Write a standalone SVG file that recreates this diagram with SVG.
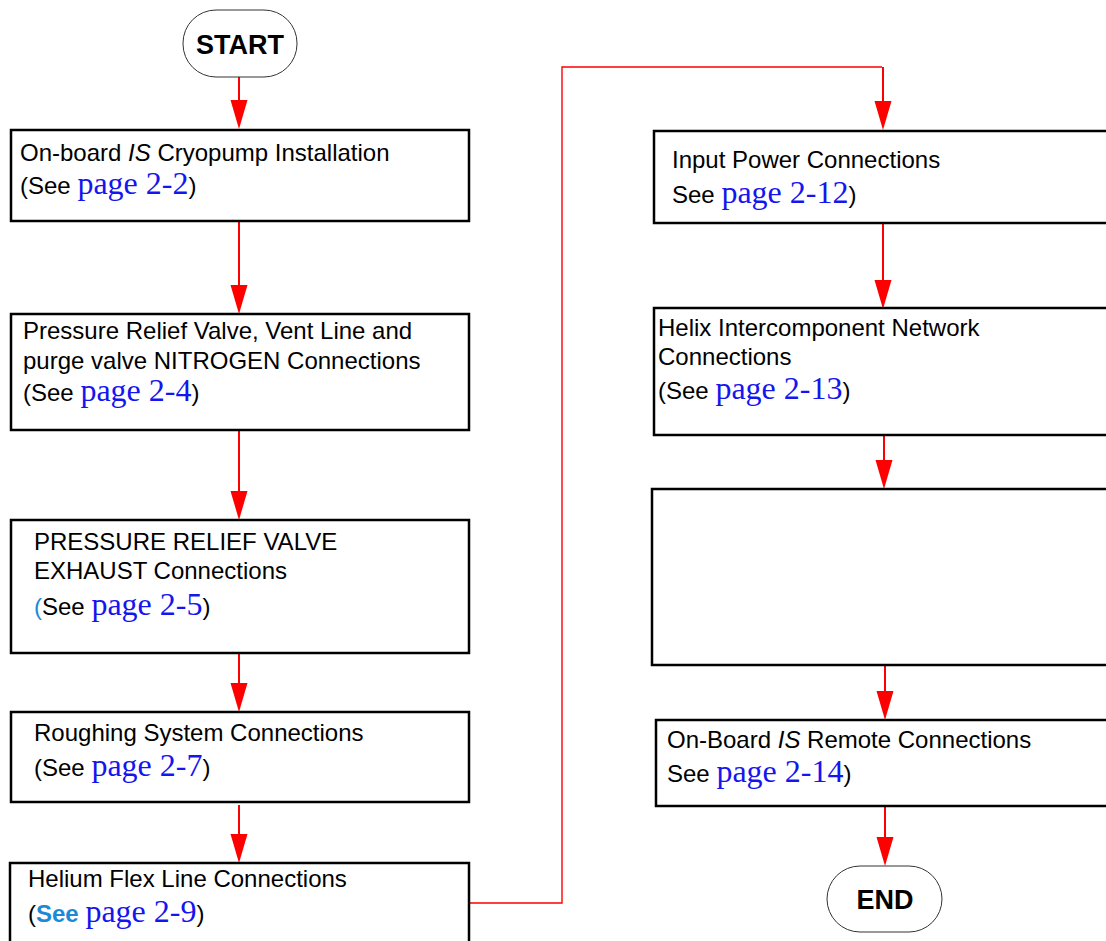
<svg xmlns="http://www.w3.org/2000/svg" width="1106" height="941" viewBox="0 0 1106 941">
<style>
.box{fill:#fff;stroke:#000;stroke-width:2.5}
.pill{fill:#fff;stroke:#333;stroke-width:1}
.t{font-family:"Liberation Sans",Arial,sans-serif;font-size:24px;fill:#000}
.tb{font-family:"Liberation Sans",Arial,sans-serif;font-size:27px;font-weight:bold;fill:#000}
.pg{font-family:"Liberation Serif","Times New Roman",serif;font-size:32px;fill:#1515f0}
.lb{fill:#1b8ad6}
.c{fill:none;stroke:#f00;stroke-width:2}
.c1{fill:none;stroke:#f00;stroke-width:1.4}
</style>
<g id="connectors">
<line class="c" x1="239" y1="77" x2="239" y2="100"/><path d="M230.5,100 L247.5,100 L239,129 Z" fill="#f00"/>
<line class="c" x1="239" y1="221" x2="239" y2="285"/><path d="M230.5,285 L247.5,285 L239,314 Z" fill="#f00"/>
<line class="c" x1="239" y1="430" x2="239" y2="491"/><path d="M230.5,491 L247.5,491 L239,520 Z" fill="#f00"/>
<line class="c" x1="239" y1="653" x2="239" y2="683"/><path d="M230.5,683 L247.5,683 L239,712 Z" fill="#f00"/>
<line class="c" x1="239" y1="805" x2="239" y2="834"/><path d="M230.5,834 L247.5,834 L239,863 Z" fill="#f00"/>
<polyline class="c1" points="469,903 562,903 562,67 882,67"/>
<line class="c" x1="883" y1="67" x2="883" y2="101"/><path d="M874.5,101 L891.5,101 L883,130 Z" fill="#f00"/>
<line class="c" x1="883" y1="216" x2="883" y2="280"/><path d="M874.5,280 L891.5,280 L883,309 Z" fill="#f00"/>
<line class="c" x1="884" y1="435" x2="884" y2="460"/><path d="M875.5,460 L892.5,460 L884,489 Z" fill="#f00"/>
<line class="c" x1="885" y1="666" x2="885" y2="691"/><path d="M876.5,691 L893.5,691 L885,720 Z" fill="#f00"/>
<line class="c" x1="885" y1="804" x2="885" y2="837"/><path d="M876.5,837 L893.5,837 L885,866 Z" fill="#f00"/>
</g>
<g id="start">
<rect class="pill" x="183" y="10" width="114" height="67" rx="33" ry="33"/>
<text class="tb" x="240" y="54" text-anchor="middle">START</text>
</g>
<g id="n1">
<rect class="box" x="11" y="130" width="458" height="91"/>
<text class="t" x="20" y="161">On-board <tspan font-style="italic">IS</tspan> Cryopump Installation</text>
<text class="t" x="20" y="194">(See <tspan class="pg">page 2-2</tspan>)</text>
</g>
<g id="n2">
<rect class="box" x="11" y="314" width="458" height="116"/>
<text class="t" x="23" y="339">Pressure Relief Valve, Vent Line and</text>
<text class="t" x="23" y="369">purge valve NITROGEN Connections</text>
<text class="t" x="23" y="401">(See <tspan class="pg">page 2-4</tspan>)</text>
</g>
<g id="n3">
<rect class="box" x="11" y="520" width="458" height="133"/>
<text class="t" x="34" y="550">PRESSURE RELIEF VALVE</text>
<text class="t" x="34" y="579">EXHAUST Connections</text>
<text class="t" x="34" y="615"><tspan class="lb">(</tspan>See <tspan class="pg">page 2-5</tspan>)</text>
</g>
<g id="n4">
<rect class="box" x="11" y="712" width="458" height="90"/>
<text class="t" x="34" y="741">Roughing System Connections</text>
<text class="t" x="34" y="776">(See <tspan class="pg">page 2-7</tspan>)</text>
</g>
<g id="n5">
<rect class="box" x="10" y="863" width="459" height="90"/>
<text class="t" x="28" y="887">Helium Flex Line Connections</text>
<text class="t" x="28" y="922">(<tspan class="lb" font-weight="bold">See</tspan> <tspan class="pg">page 2-9</tspan>)</text>
</g>
<g id="n6">
<rect class="box" x="654" y="131" width="460" height="92"/>
<text class="t" x="672" y="168">Input Power Connections</text>
<text class="t" x="672" y="203">See <tspan class="pg">page 2-12</tspan>)</text>
</g>
<g id="n7">
<rect class="box" x="654" y="308" width="460" height="127"/>
<text class="t" x="658" y="336">Helix Intercomponent Network</text>
<text class="t" x="658" y="365">Connections</text>
<text class="t" x="658" y="399">(See <tspan class="pg">page 2-13</tspan>)</text>
</g>
<g id="n8">
<rect class="box" x="652" y="489" width="462" height="176"/>
</g>
<g id="n9">
<rect class="box" x="656" y="720" width="458" height="86"/>
<text class="t" x="667" y="748">On-Board <tspan font-style="italic">IS</tspan> Remote Connections</text>
<text class="t" x="667" y="782">See <tspan class="pg">page 2-14</tspan>)</text>
</g>
<g id="end">
<rect class="pill" x="827" y="866" width="115" height="66" rx="33" ry="33"/>
<text class="tb" x="885" y="909" text-anchor="middle">END</text>
</g>
</svg>
